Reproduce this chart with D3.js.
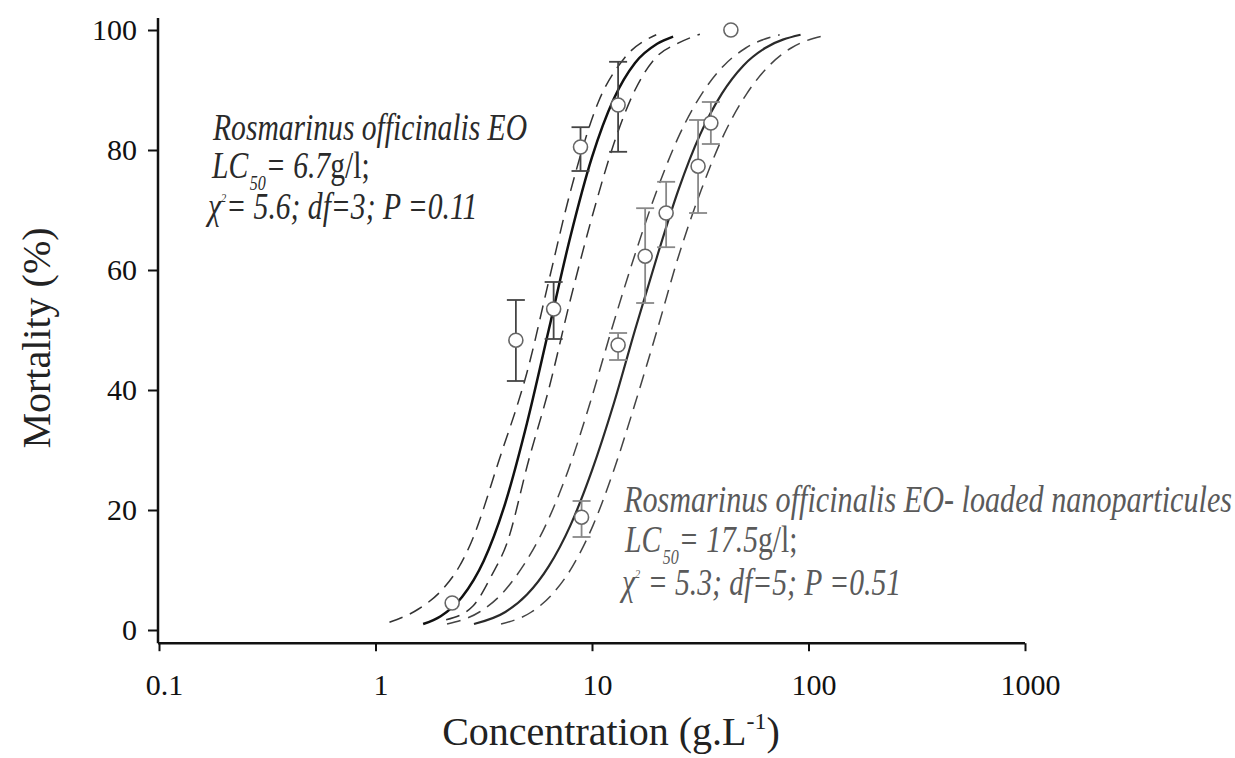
<!DOCTYPE html>
<html>
<head>
<meta charset="utf-8">
<script src="https://cdn.jsdelivr.net/npm/d3@7"></script>
<style>
  body { margin: 0; background: #fff; }
  svg { display: block; }
  text { font-family: "Liberation Serif", "Times New Roman", serif; white-space: pre; }
</style>
</head>
<body>
<svg width="1235" height="758"></svg>
<script>
// axis ticks
var xTickValues = [0.1, 1, 10, 100, 1000];
var xTickLabels = ["0.1", "1", "10", "100", "1000"];
var yTickValues = [0, 20, 40, 60, 80, 100];

// observed mortality, Rosmarinus officinalis EO
var eoConc = [2.26, 4.45, 6.65, 8.85, 13.2];
var eoMort = [4.5, 48.3, 53.5, 80.5, 87.5];
var eoHigh = [null, 55, 58, 83.8, 94.7];
var eoLow  = [null, 41.5, 48.5, 76.5, 79.7];

// observed mortality, EO-loaded nanoparticules
var nanoConc = [8.95, 13.2, 17.6, 22.0, 30.9, 35.4, 43.8];
var nanoMort = [18.8, 47.5, 62.3, 69.5, 77.3, 84.5, 100];
var nanoHigh = [21.5, 49.5, 70.3, 74.7, 85, 88, null];
var nanoLow  = [15.5, 45, 54.5, 63.8, 69.5, 81, null];

// fitted curves [concentration, mortality]
var eoFit = [[1.66,1.0],[2.0,2.3],[2.51,5.5],[3.16,11.5],[3.98,21.2],[5.01,34.5],[6.31,50],
             [7.94,65.5],[10,78.8],[12.6,88.5],[15.8,94.5],[20,97.7],[23.7,98.9]];
var eoFitLow = [[1.16,1.3],[1.58,3.5],[2.03,6.7],[2.43,10.5],[2.76,14.5],[3.72,28.3],[5.1,44],
                [6.3,58],[7.94,73],[10.7,88],[14.1,95.3],[19.8,99.2]];
var eoFitHigh = [[2.12,1.7],[2.82,4.0],[3.45,9.2],[4.05,14.5],[5.1,28.3],[6.3,40],[7.94,55],
                 [10.4,71],[12.6,81],[15.8,90],[19.6,95.3],[25,97.8],[31.5,99.3]];
var nanoFit = [[2.85,1.0],[3.98,3.0],[5.01,5.9],[6.31,10.6],[7.94,17.4],[10,26.6],[12.6,37.7],
               [15.8,50],[20,62.3],[25.1,73.4],[31.6,82.6],[39.8,89.4],[50.1,94.1],[63.1,97.0],[91.9,99.2]];
var nanoFitLow = [[2.14,1.0],[3.02,3.0],[3.8,5.9],[4.79,10.6],[6.1,17.4],[7.76,26.6],[9.77,37.7],
                  [12.3,50],[15.7,62.3],[20,73.4],[25.4,82.6],[32.2,89.4],[40.7,94.1],[51.3,97.0],[73.6,99.2]];
var nanoFitHigh = [[3.8,1.0],[5.25,3.0],[6.53,5.9],[8.13,10.6],[10.1,17.4],[12.6,26.6],[15.8,37.7],
                   [20,50],[25.1,62.3],[32,73.4],[40.7,82.6],[51.9,89.4],[66,94.1],[83.2,97.0],[116,99.0]];

var svg = d3.select("svg");

var x = d3.scaleLog().domain([0.1, 1000]).range([159, 1025]);
var y = d3.scaleLinear().domain([0, 100]).range([630, 30]);

// axes
var yAxis = d3.axisLeft(y).tickValues(yTickValues).tickSize(10).tickPadding(11).tickSizeOuter(0);
var gy = svg.append("g").attr("transform", "translate(" + (x(0.1) - 1) + ",0)").call(yAxis);
gy.select(".domain").remove();
gy.selectAll("line").attr("stroke", "#111").attr("stroke-width", 2);
gy.selectAll("text").attr("font-size", 30).attr("fill", "#111");

var xAxis = d3.axisBottom(x).tickValues(xTickValues)
    .tickFormat(function(d, i) { return xTickLabels[i]; })
    .tickSize(8).tickPadding(23).tickSizeOuter(0);
var gx = svg.append("g").attr("transform", "translate(0," + y(-2.2) + ")").call(xAxis);
gx.select(".domain").remove();
gx.selectAll("line").attr("stroke", "#111").attr("stroke-width", 2);
gx.selectAll("text").attr("font-size", 30).attr("fill", "#111").attr("dx", 5);

svg.append("line")
    .attr("x1", x(0.1) - 1).attr("x2", x(0.1) - 1)
    .attr("y1", y(102)).attr("y2", y(-2.2))
    .attr("stroke", "#111").attr("stroke-width", 2.5);
svg.append("line")
    .attr("x1", x(0.1) - 1).attr("x2", x(1000))
    .attr("y1", y(-2.2)).attr("y2", y(-2.2))
    .attr("stroke", "#111").attr("stroke-width", 2.5);

// axis titles
var xt = svg.append("text")
    .attr("x", 611).attr("y", 745)
    .attr("text-anchor", "middle")
    .attr("font-size", 40).attr("fill", "#222");
xt.append("tspan").text("Concentration (g.L");
xt.append("tspan").attr("font-size", 24).attr("dy", -16).text("-1");
xt.append("tspan").attr("dy", 16).text(")");

svg.append("text")
    .attr("transform", "translate(50,338) rotate(-90)")
    .attr("text-anchor", "middle")
    .attr("font-size", 40).attr("fill", "#222")
    .text("Mortality (%)");

// curves
var line = d3.line()
    .x(function(d) { return x(d[0]); })
    .y(function(d) { return y(d[1]); })
    .curve(d3.curveMonotoneX);

function drawCurve(data, color, width, dash) {
  svg.append("path")
      .datum(data)
      .attr("fill", "none")
      .attr("stroke", color)
      .attr("stroke-width", width)
      .attr("stroke-dasharray", dash)
      .attr("d", line);
}

drawCurve(eoFitLow, "#333", 1.5, "14,8");
drawCurve(eoFitHigh, "#333", 1.5, "14,8");
drawCurve(nanoFitLow, "#444", 1.5, "14,8");
drawCurve(nanoFitHigh, "#444", 1.5, "14,8");
drawCurve(eoFit, "#111", 2.5, null);
drawCurve(nanoFit, "#2a2a2a", 2.2, null);

// error bars + points
function drawPoints(conc, mort, high, low, barColor) {
  var pts = conc.map(function(c, i) {
    return {c: c, m: mort[i], hi: high[i], lo: low[i]};
  });
  var bars = pts.filter(function(d) { return d.hi !== null; });
  var g = svg.append("g").attr("stroke", barColor).attr("stroke-width", 1.8);
  g.selectAll(".v").data(bars).enter().append("line")
      .attr("x1", function(d) { return x(d.c); })
      .attr("x2", function(d) { return x(d.c); })
      .attr("y1", function(d) { return y(d.hi); })
      .attr("y2", function(d) { return y(d.lo); });
  g.selectAll(".t").data(bars).enter().append("line")
      .attr("x1", function(d) { return x(d.c) - 9; })
      .attr("x2", function(d) { return x(d.c) + 9; })
      .attr("y1", function(d) { return y(d.hi); })
      .attr("y2", function(d) { return y(d.hi); });
  g.selectAll(".b").data(bars).enter().append("line")
      .attr("x1", function(d) { return x(d.c) - 9; })
      .attr("x2", function(d) { return x(d.c) + 9; })
      .attr("y1", function(d) { return y(d.lo); })
      .attr("y2", function(d) { return y(d.lo); });
  svg.append("g").selectAll("circle").data(pts).enter().append("circle")
      .attr("cx", function(d) { return x(d.c); })
      .attr("cy", function(d) { return y(d.m); })
      .attr("r", 7)
      .attr("fill", "#fff")
      .attr("stroke", "#666")
      .attr("stroke-width", 1.6);
}

drawPoints(eoConc, eoMort, eoHigh, eoLow, "#444");
drawPoints(nanoConc, nanoMort, nanoHigh, nanoLow, "#888");

// annotations (condensed italic), one text element per line
function annotate(x0, y0, lines, color) {
  lines.forEach(function(l) {
    var g = svg.append("g")
        .attr("transform", "translate(" + (x0 + l.dx) + "," + (y0 + l.dy) + ") scale(" + (l.sx || 0.8) + ",1)");
    var t = g.append("text")
        .attr("font-size", 37).attr("font-style", "italic").attr("fill", color);
    if (l.kind === "lc") {
      t.append("tspan").text("LC");
      t.append("tspan").attr("font-size", 20).attr("dx", 2).attr("dy", 12).text("50");
      t.append("tspan").attr("dy", -12).text(l.value);
      t.append("tspan").attr("font-style", "normal").text("g/l;");
    } else if (l.kind === "chi") {
      t.append("tspan").text("\u03c7");
      t.append("tspan").attr("font-size", 13).attr("dy", -17).text("2");
      t.append("tspan").attr("dy", 17).text(l.text);
    } else {
      t.text(l.text);
    }
  });
}

annotate(212, 140, [
  {dx: 1, dy: 0, text: "Rosmarinus officinalis EO"},
  {dx: 0, dy: 38, kind: "lc", value: "= 6.7"},
  {dx: -4, dy: 79, kind: "chi", text: "= 5.6; df=3; P =0.11"}
], "#2a2a2a");

annotate(624, 512, [
  {dx: 0, dy: 0, sx: 0.815, text: "Rosmarinus officinalis EO- loaded nanoparticules"},
  {dx: 1, dy: 40, kind: "lc", value: "= 17.5"},
  {dx: -2, dy: 83, kind: "chi", text: " = 5.3; df=5; P =0.51"}
], "#5a5a5a");
</script>
</body>
</html>
